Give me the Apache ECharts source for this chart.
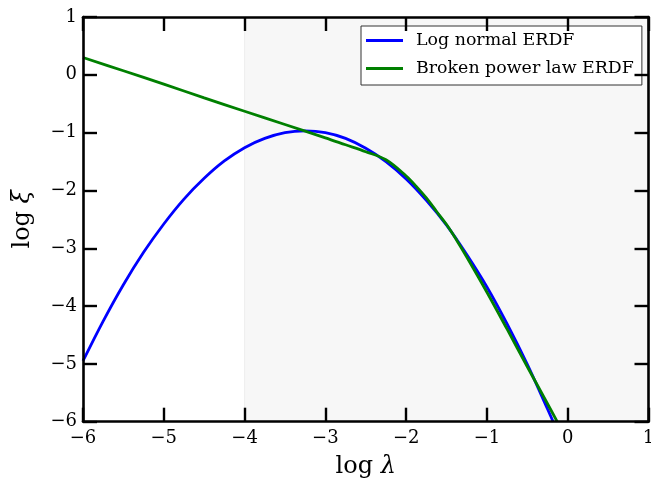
<!DOCTYPE html>
<html>
<head>
<meta charset="utf-8">
<script src="https://cdn.jsdelivr.net/npm/echarts@6/dist/echarts.min.js"></script>
<style>
  html, body { margin: 0; padding: 0; background: #ffffff; }
  #chart { width: 651px; height: 479px; }
</style>
</head>
<body>
<div id="chart"></div>
<script>
// Log-normal ERDF curve (log λ, log ξ)
const logNormalX = [-6, -5.75, -5.5, -5.25, -5, -4.75, -4.5, -4.25, -4, -3.75, -3.5, -3.25,
                    -3, -2.75, -2.5, -2.25, -2, -1.75, -1.5, -1.25, -1, -0.75, -0.5, -0.25, -0.18];
const logNormalY = [-4.95, -4.26, -3.63, -3.07, -2.58, -2.15, -1.79, -1.49, -1.26, -1.10, -1.00, -0.97,
                    -1.00, -1.10, -1.27, -1.50, -1.80, -2.17, -2.60, -3.11, -3.67, -4.31, -5.01, -5.78, -6.00];

// Broken power-law ERDF curve
const brokenX = [-6, -5.5, -5, -4.5, -4, -3.5, -3, -2.75, -2.5, -2.25, -2, -1.875, -1.75, -1.625,
                 -1.5, -1.375, -1.25, -1, -0.75, -0.5, -0.25, -0.13];
const brokenY = [0.30, 0.07, -0.16, -0.40, -0.63, -0.86, -1.09, -1.21, -1.33, -1.47, -1.75, -1.93, -2.13, -2.36,
                 -2.59, -2.86, -3.15, -3.76, -4.40, -5.05, -5.69, -6.00];

// Shaded band of log λ
const shadeRange = [-4, 1];

const seriesNames = ['Log normal ERDF', 'Broken power law ERDF'];

const zip = (xs, ys) => xs.map((x, i) => [x, ys[i]]);
const minus = v => String(v).replace('-', '\u2212');

const serif = 'DejaVu Serif';
const frame = { show: true, onZero: false, lineStyle: { color: '#000', width: 2.6 } };
const tick = { show: true, inside: true, length: 14, lineStyle: { color: '#000', width: 2.4 } };
const nameRich = {
  a: { fontFamily: serif, fontSize: 24, color: '#000' },
  b: { fontFamily: serif, fontSize: 24, fontStyle: 'italic', color: '#000' }
};

const chart = echarts.init(document.getElementById('chart'), null, { renderer: 'canvas' });

chart.setOption({
  animation: false,
  backgroundColor: '#ffffff',
  grid: { left: 83, right: 2.5, top: 17, bottom: 57.3, containLabel: false, outerBoundsMode: 'none' },
  legend: {
    orient: 'vertical',
    left: 361,
    top: 26,
    padding: [6, 8, 8, 5],
    icon: 'rect',
    itemWidth: 37,
    itemHeight: 3,
    itemGap: 11,
    borderColor: '#333',
    borderWidth: 1,
    borderRadius: 0,
    backgroundColor: '#ffffff',
    textStyle: { fontFamily: serif, fontSize: 17.4, lineHeight: 14, color: '#000', padding: [0, 0, 0, 8] },
    data: seriesNames
  },
  xAxis: [
    {
      type: 'value', min: -6, max: 1, interval: 1, position: 'bottom', z: 10,
      axisLine: frame, axisTick: tick, splitLine: { show: false },
      axisLabel: { margin: 8, color: '#000', fontFamily: serif, fontSize: 18, formatter: minus },
      name: '{a|log }{b|λ}', nameLocation: 'middle', nameGap: 33,
      nameTextStyle: { rich: nameRich }
    },
    {
      type: 'value', min: -6, max: 1, interval: 1, position: 'top', z: 10,
      axisLine: frame, axisTick: tick, axisLabel: { show: false }, splitLine: { show: false }
    }
  ],
  yAxis: [
    {
      type: 'value', min: -6, max: 1, interval: 1, position: 'left', z: 10,
      axisLine: frame, axisTick: tick, splitLine: { show: false },
      axisLabel: { margin: 6, color: '#000', fontFamily: serif, fontSize: 18, formatter: minus },
      name: '{a|log }{b|ξ}', nameLocation: 'middle', nameGap: 48, nameRotate: 90,
      nameTextStyle: { rich: nameRich }
    },
    {
      type: 'value', min: -6, max: 1, interval: 1, position: 'right', z: 10,
      axisLine: frame, axisTick: tick, axisLabel: { show: false }, splitLine: { show: false }
    }
  ],
  series: [
    {
      name: seriesNames[0],
      type: 'line',
      data: zip(logNormalX, logNormalY),
      symbol: 'none',
      smooth: 0.35,
      clip: true,
      lineStyle: { color: '#0000ff', width: 2.8 },
      itemStyle: { color: '#0000ff' },
      z: 3,
      markArea: {
        silent: true,
        itemStyle: { color: '#f7f7f7', borderColor: '#eeeeee', borderWidth: 1 },
        data: [[{ xAxis: shadeRange[0] }, { xAxis: shadeRange[1] }]]
      }
    },
    {
      name: seriesNames[1],
      type: 'line',
      data: zip(brokenX, brokenY),
      symbol: 'none',
      smooth: 0.35,
      clip: true,
      lineStyle: { color: '#008000', width: 2.8 },
      itemStyle: { color: '#008000' },
      z: 4
    }
  ]
});
</script>
</body>
</html>
